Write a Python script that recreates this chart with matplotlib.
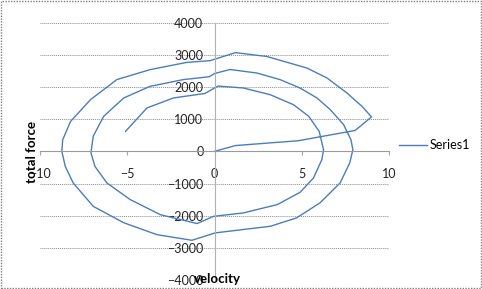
import matplotlib.pyplot as plt
from matplotlib.patches import Rectangle

# spiral: velocity vs total force
velocity = [0, 1.2, 4.8, 8.06, 9.0,
            8.45, 7.6, 6.45, 5.3, 3.0, 1.2, -0.25, -1.6, -3.7, -5.6, -7.1, -8.25, -8.7, -8.75,
            -8.55, -8.1, -6.95, -5.2, -3.3, -1.3, 0.05, 1.65, 3.2, 4.7, 6.05, 7.2, 7.75, 7.93,
            7.82, 7.4, 6.63, 5.87, 4.9, 3.76, 2.43, 0.9, 0.0, -0.3, -1.8, -3.7, -5.2, -6.35, -6.95, -7.08,
            -6.85, -6.17, -4.83, -3.1, -1.0, -0.05, 1.65, 3.6, 4.9, 5.67, 6.15, 6.25,
            6.0, 5.4, 4.53, 3.2, 1.66, 0.2, -0.55, -2.35, -3.87, -5.1]
total_force = [0, 180, 330, 650, 1070,
               1400, 1810, 2280, 2590, 2950, 3070, 2820, 2765, 2540, 2230, 1610, 930, 360, 0,
               -470, -980, -1710, -2220, -2590, -2765, -2535, -2430, -2330, -2070, -1600, -980, -360, 50,
               360, 830, 1300, 1660, 1970, 2230, 2435, 2545, 2420, 2320, 2230, 2020, 1660, 1090, 470, -50,
               -470, -980, -1500, -1970, -2245, -2020, -1915, -1655, -1275, -830, -260, 50,
               620, 1090, 1450, 1760, 1970, 2030, 1800, 1660, 1350, 620]

x_ticks = [-10, -5, 0, 5, 10]
y_ticks = [-4000, -3000, -2000, -1000, 0, 1000, 2000, 3000, 4000]

plt.rcParams['font.family'] = ['Lato', 'DejaVu Sans']

fig = plt.figure(figsize=(4.82, 2.89), dpi=100)
ax = fig.add_axes([40 / 482, 9 / 289, 349 / 482, 257.3 / 289])

ax.plot(velocity, total_force, color='#4A7EBB', lw=1.0, label='Series1')

ax.set_xlim(-10, 10)
ax.set_ylim(-4000, 4000)
ax.set_xticks(x_ticks)
ax.set_yticks(y_ticks)

for s in ['top', 'right']:
    ax.spines[s].set_visible(False)
ax.spines['left'].set_position('zero')
ax.spines['bottom'].set_position('zero')
ax.spines['left'].set_color('#B0B0B0')
ax.spines['bottom'].set_color('#9A9A9A')
ax.spines['left'].set_linewidth(0.8)
ax.spines['bottom'].set_linewidth(0.8)

ax.grid(axis='y', color='#8C8C8C', linestyle=(0, (1, 1)), lw=0.7)
ax.tick_params(axis='y', length=0, pad=8, labelsize=9, labelcolor='#222222')
ax.tick_params(axis='x', direction='out', length=3, pad=9, labelsize=9,
               color='#A6A6A6', labelcolor='#222222')

fig.text(32 / 482, 1 - 152 / 289, 'total force', rotation=90, ha='center', va='center',
         fontsize=9.5, fontweight='bold')
fig.text(217 / 482, 1 - 279 / 289, 'velocity', ha='center', va='center',
         fontsize=9.5, fontweight='bold')

fig.legend(loc='center left', bbox_to_anchor=(399 / 482, 1 - 145 / 289), frameon=False,
           handlelength=2.2, handletextpad=0.25, borderpad=0, borderaxespad=0, fontsize=9)

fig.patches.append(Rectangle((0.002, 0.003), 0.996, 0.994, transform=fig.transFigure,
                             fill=False, ec='#808080', ls=(0, (1, 1)), lw=1))

fig.savefig('out.png', dpi=100)
